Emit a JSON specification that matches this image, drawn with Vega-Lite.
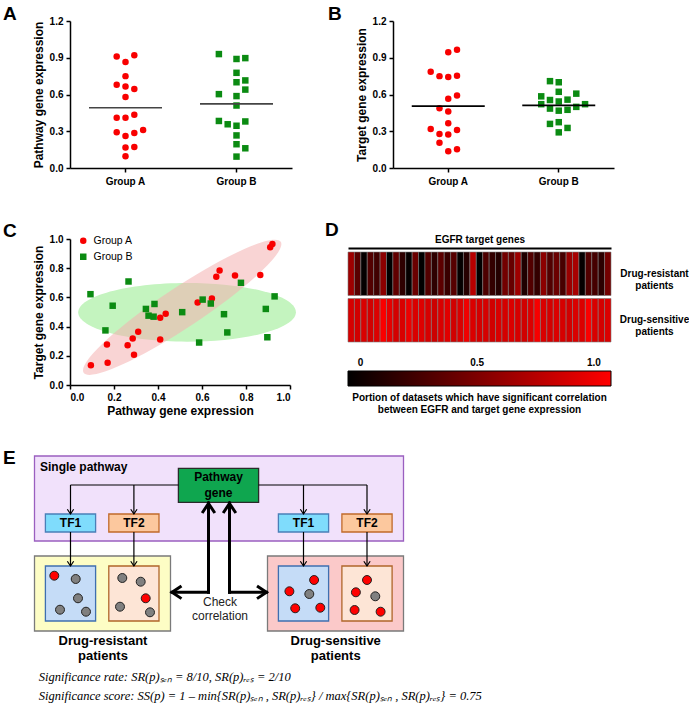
{
  "$schema": "https://vega.github.io/schema/vega-lite/v6.json",
  "padding": {"left": 3, "top": 5, "right": 0, "bottom": 0},
  "background": "white",
  "config": {
    "view": {"stroke": null},
    "font": "Liberation Sans",
    "axis": {"domainColor": "#000", "domainWidth": 1.5, "tickColor": "#000", "tickWidth": 1.5, "tickSize": 4, "labelColor": "#000", "labelFont": "Liberation Sans", "labelFontWeight": "bold", "labelFontSize": 10, "labelPadding": 3, "labelOverlap": false, "titleColor": "#000", "titleFont": "Liberation Sans", "titleFontWeight": "bold", "titleFontSize": 12, "titlePadding": 4, "grid": false},
    "title": {"font": "Liberation Sans", "color": "#000"}
  },
  "datasets": {
    "pts": [
      {"group": "Group A", "pathway": 0.095, "target": 0.136, "slotA": 0, "slotB": 0},
      {"group": "Group A", "pathway": 0.171, "target": 0.153, "slotA": 1, "slotB": 1},
      {"group": "Group A", "pathway": 0.168, "target": 0.278, "slotA": 0, "slotB": -1},
      {"group": "Group A", "pathway": 0.262, "target": 0.273, "slotA": 0, "slotB": 0},
      {"group": "Group A", "pathway": 0.285, "target": 0.319, "slotA": 1, "slotB": -2},
      {"group": "Group A", "pathway": 0.291, "target": 0.207, "slotA": -1, "slotB": -1},
      {"group": "Group A", "pathway": 0.31, "target": 0.365, "slotA": 2, "slotB": 0},
      {"group": "Group A", "pathway": 0.41, "target": 0.461, "slotA": -1, "slotB": 0},
      {"group": "Group A", "pathway": 0.435, "target": 0.488, "slotA": 1, "slotB": -1},
      {"group": "Group A", "pathway": 0.41, "target": 0.311, "slotA": 0, "slotB": 1},
      {"group": "Group A", "pathway": 0.58, "target": 0.565, "slotA": 0, "slotB": 0},
      {"group": "Group A", "pathway": 0.645, "target": 0.592, "slotA": 1, "slotB": 1},
      {"group": "Group A", "pathway": 0.665, "target": 0.742, "slotA": 0, "slotB": 0},
      {"group": "Group A", "pathway": 0.68, "target": 0.785, "slotA": -1, "slotB": -2},
      {"group": "Group A", "pathway": 0.75, "target": 0.75, "slotA": 0, "slotB": -1},
      {"group": "Group A", "pathway": 0.865, "target": 0.753, "slotA": 0, "slotB": 1},
      {"group": "Group A", "pathway": 0.91, "target": 0.944, "slotA": -1, "slotB": 0},
      {"group": "Group A", "pathway": 0.92, "target": 0.965, "slotA": 1, "slotB": 1},
      {"group": "Group B", "pathway": 0.093, "target": 0.622, "slotA": 0, "slotB": 0},
      {"group": "Group B", "pathway": 0.161, "target": 0.374, "slotA": 1, "slotB": 0},
      {"group": "Group B", "pathway": 0.194, "target": 0.543, "slotA": 0, "slotB": 0},
      {"group": "Group B", "pathway": 0.266, "target": 0.709, "slotA": 0, "slotB": -1},
      {"group": "Group B", "pathway": 0.345, "target": 0.521, "slotA": 0, "slotB": -2},
      {"group": "Group B", "pathway": 0.357, "target": 0.475, "slotA": -1, "slotB": 1},
      {"group": "Group B", "pathway": 0.38, "target": 0.468, "slotA": 1, "slotB": 0},
      {"group": "Group B", "pathway": 0.384, "target": 0.555, "slotA": -2, "slotB": -1},
      {"group": "Group B", "pathway": 0.51, "target": 0.499, "slotA": 0, "slotB": 2},
      {"group": "Group B", "pathway": 0.587, "target": 0.291, "slotA": 0, "slotB": 0},
      {"group": "Group B", "pathway": 0.603, "target": 0.585, "slotA": -2, "slotB": -2},
      {"group": "Group B", "pathway": 0.64, "target": 0.558, "slotA": 1, "slotB": 1},
      {"group": "Group B", "pathway": 0.7, "target": 0.485, "slotA": 0, "slotB": -1},
      {"group": "Group B", "pathway": 0.715, "target": 0.36, "slotA": 1, "slotB": -1},
      {"group": "Group B", "pathway": 0.777, "target": 0.7, "slotA": 0, "slotB": 0},
      {"group": "Group B", "pathway": 0.89, "target": 0.521, "slotA": 0, "slotB": 3},
      {"group": "Group B", "pathway": 0.897, "target": 0.327, "slotA": 1, "slotB": 1},
      {"group": "Group B", "pathway": 0.93, "target": 0.607, "slotA": -2, "slotB": 2}
    ],
    "ell": [
      {"group": "Group B", "pathway": 0.532, "target": 0.498},
      {"group": "Group A", "pathway": 0.51, "target": 0.532}
    ],
    "heat": [
      {"gene": 1, "grp": "Drug-resistant patients", "v": 0.62},
      {"gene": 2, "grp": "Drug-resistant patients", "v": 0.35},
      {"gene": 3, "grp": "Drug-resistant patients", "v": 0.02},
      {"gene": 4, "grp": "Drug-resistant patients", "v": 0.32},
      {"gene": 5, "grp": "Drug-resistant patients", "v": 0.25},
      {"gene": 6, "grp": "Drug-resistant patients", "v": 0.55},
      {"gene": 7, "grp": "Drug-resistant patients", "v": 0.0},
      {"gene": 8, "grp": "Drug-resistant patients", "v": 0.38},
      {"gene": 9, "grp": "Drug-resistant patients", "v": 0.18},
      {"gene": 10, "grp": "Drug-resistant patients", "v": 0.02},
      {"gene": 11, "grp": "Drug-resistant patients", "v": 0.42},
      {"gene": 12, "grp": "Drug-resistant patients", "v": 0.0},
      {"gene": 13, "grp": "Drug-resistant patients", "v": 0.32},
      {"gene": 14, "grp": "Drug-resistant patients", "v": 0.18},
      {"gene": 15, "grp": "Drug-resistant patients", "v": 0.36},
      {"gene": 16, "grp": "Drug-resistant patients", "v": 0.22},
      {"gene": 17, "grp": "Drug-resistant patients", "v": 0.34},
      {"gene": 18, "grp": "Drug-resistant patients", "v": 0.02},
      {"gene": 19, "grp": "Drug-resistant patients", "v": 0.15},
      {"gene": 20, "grp": "Drug-resistant patients", "v": 0.72},
      {"gene": 21, "grp": "Drug-resistant patients", "v": 0.0},
      {"gene": 22, "grp": "Drug-resistant patients", "v": 0.3},
      {"gene": 23, "grp": "Drug-resistant patients", "v": 0.2},
      {"gene": 24, "grp": "Drug-resistant patients", "v": 0.14},
      {"gene": 25, "grp": "Drug-resistant patients", "v": 0.45},
      {"gene": 26, "grp": "Drug-resistant patients", "v": 0.4},
      {"gene": 27, "grp": "Drug-resistant patients", "v": 0.62},
      {"gene": 28, "grp": "Drug-resistant patients", "v": 0.12},
      {"gene": 29, "grp": "Drug-resistant patients", "v": 0.32},
      {"gene": 30, "grp": "Drug-resistant patients", "v": 0.2},
      {"gene": 31, "grp": "Drug-resistant patients", "v": 0.55},
      {"gene": 32, "grp": "Drug-resistant patients", "v": 0.32},
      {"gene": 33, "grp": "Drug-resistant patients", "v": 0.42},
      {"gene": 34, "grp": "Drug-resistant patients", "v": 0.28},
      {"gene": 35, "grp": "Drug-resistant patients", "v": 0.6},
      {"gene": 36, "grp": "Drug-resistant patients", "v": 0.66},
      {"gene": 37, "grp": "Drug-resistant patients", "v": 0.02},
      {"gene": 38, "grp": "Drug-resistant patients", "v": 0.32},
      {"gene": 39, "grp": "Drug-resistant patients", "v": 0.27},
      {"gene": 40, "grp": "Drug-resistant patients", "v": 0.17},
      {"gene": 41, "grp": "Drug-resistant patients", "v": 0.45},
      {"gene": 1, "grp": "Drug-sensitive patients", "v": 0.84},
      {"gene": 2, "grp": "Drug-sensitive patients", "v": 0.82},
      {"gene": 3, "grp": "Drug-sensitive patients", "v": 0.85},
      {"gene": 4, "grp": "Drug-sensitive patients", "v": 0.82},
      {"gene": 5, "grp": "Drug-sensitive patients", "v": 0.86},
      {"gene": 6, "grp": "Drug-sensitive patients", "v": 0.98},
      {"gene": 7, "grp": "Drug-sensitive patients", "v": 0.9},
      {"gene": 8, "grp": "Drug-sensitive patients", "v": 0.83},
      {"gene": 9, "grp": "Drug-sensitive patients", "v": 0.85},
      {"gene": 10, "grp": "Drug-sensitive patients", "v": 0.93},
      {"gene": 11, "grp": "Drug-sensitive patients", "v": 0.85},
      {"gene": 12, "grp": "Drug-sensitive patients", "v": 0.87},
      {"gene": 13, "grp": "Drug-sensitive patients", "v": 0.84},
      {"gene": 14, "grp": "Drug-sensitive patients", "v": 0.8},
      {"gene": 15, "grp": "Drug-sensitive patients", "v": 0.85},
      {"gene": 16, "grp": "Drug-sensitive patients", "v": 0.88},
      {"gene": 17, "grp": "Drug-sensitive patients", "v": 0.82},
      {"gene": 18, "grp": "Drug-sensitive patients", "v": 0.85},
      {"gene": 19, "grp": "Drug-sensitive patients", "v": 0.94},
      {"gene": 20, "grp": "Drug-sensitive patients", "v": 0.86},
      {"gene": 21, "grp": "Drug-sensitive patients", "v": 0.83},
      {"gene": 22, "grp": "Drug-sensitive patients", "v": 0.84},
      {"gene": 23, "grp": "Drug-sensitive patients", "v": 0.82},
      {"gene": 24, "grp": "Drug-sensitive patients", "v": 0.85},
      {"gene": 25, "grp": "Drug-sensitive patients", "v": 0.83},
      {"gene": 26, "grp": "Drug-sensitive patients", "v": 0.86},
      {"gene": 27, "grp": "Drug-sensitive patients", "v": 0.84},
      {"gene": 28, "grp": "Drug-sensitive patients", "v": 0.82},
      {"gene": 29, "grp": "Drug-sensitive patients", "v": 0.86},
      {"gene": 30, "grp": "Drug-sensitive patients", "v": 0.97},
      {"gene": 31, "grp": "Drug-sensitive patients", "v": 0.85},
      {"gene": 32, "grp": "Drug-sensitive patients", "v": 0.83},
      {"gene": 33, "grp": "Drug-sensitive patients", "v": 0.86},
      {"gene": 34, "grp": "Drug-sensitive patients", "v": 0.84},
      {"gene": 35, "grp": "Drug-sensitive patients", "v": 0.82},
      {"gene": 36, "grp": "Drug-sensitive patients", "v": 0.85},
      {"gene": 37, "grp": "Drug-sensitive patients", "v": 0.86},
      {"gene": 38, "grp": "Drug-sensitive patients", "v": 0.98},
      {"gene": 39, "grp": "Drug-sensitive patients", "v": 0.85},
      {"gene": 40, "grp": "Drug-sensitive patients", "v": 0.83},
      {"gene": 41, "grp": "Drug-sensitive patients", "v": 0.86}
    ],
    "ebox": [
      {"kind": "pathway_bg", "x": 0.5, "x2": 369.5, "y": 0, "y2": 85},
      {"kind": "resistant", "x": 0.5, "x2": 136.5, "y": 100, "y2": 175},
      {"kind": "sensitive", "x": 233.5, "x2": 369.5, "y": 100, "y2": 175},
      {"kind": "gene", "x": 144.4, "x2": 224.6, "y": 12.3, "y2": 46.3},
      {"kind": "tf1", "x": 11.4, "x2": 61.6, "y": 58, "y2": 76},
      {"kind": "tf2", "x": 74.8, "x2": 125, "y": 58, "y2": 76},
      {"kind": "tf1", "x": 244.4, "x2": 294.6, "y": 58, "y2": 76},
      {"kind": "tf2", "x": 307.9, "x2": 358.1, "y": 58, "y2": 76},
      {"kind": "tf1set", "x": 11.4, "x2": 61.6, "y": 110, "y2": 165},
      {"kind": "tf2set", "x": 74.8, "x2": 125, "y": 110, "y2": 165},
      {"kind": "tf1set", "x": 244.4, "x2": 294.6, "y": 110, "y2": 165},
      {"kind": "tf2set", "x": 307.9, "x2": 358.1, "y": 110, "y2": 165}
    ],
    "eline": [
      {"w": "thin", "x": 36.5, "y": 29, "x2": 144.4, "y2": 29},
      {"w": "thin", "x": 224.6, "y": 29, "x2": 333, "y2": 29},
      {"w": "thin", "x": 36.5, "y": 29, "x2": 36.5, "y2": 58},
      {"w": "thin", "x": 99.9, "y": 29, "x2": 99.9, "y2": 58},
      {"w": "thin", "x": 269.5, "y": 29, "x2": 269.5, "y2": 58},
      {"w": "thin", "x": 333, "y": 29, "x2": 333, "y2": 58},
      {"w": "thin", "x": 36.5, "y": 76, "x2": 36.5, "y2": 110},
      {"w": "thin", "x": 99.9, "y": 76, "x2": 99.9, "y2": 110},
      {"w": "thin", "x": 269.5, "y": 76, "x2": 269.5, "y2": 110},
      {"w": "thin", "x": 333, "y": 76, "x2": 333, "y2": 110},
      {"w": "thick", "x": 174.5, "y": 47, "x2": 174.5, "y2": 136.3},
      {"w": "thick", "x": 174.5, "y": 136.3, "x2": 138, "y2": 136.3},
      {"w": "thick", "x": 195.5, "y": 47, "x2": 195.5, "y2": 136.3},
      {"w": "thick", "x": 195.5, "y": 136.3, "x2": 232.5, "y2": 136.3}
    ],
    "ehead": [
      {"w": "thin", "dir": "down", "x": 36.5, "y": 58},
      {"w": "thin", "dir": "down", "x": 99.9, "y": 58},
      {"w": "thin", "dir": "down", "x": 269.5, "y": 58},
      {"w": "thin", "dir": "down", "x": 333, "y": 58},
      {"w": "thin", "dir": "down", "x": 36.5, "y": 110},
      {"w": "thin", "dir": "down", "x": 99.9, "y": 110},
      {"w": "thin", "dir": "down", "x": 269.5, "y": 110},
      {"w": "thin", "dir": "down", "x": 333, "y": 110},
      {"w": "thick", "dir": "up", "x": 174.5, "y": 47.5},
      {"w": "thick", "dir": "up", "x": 195.5, "y": 47.5},
      {"w": "thick", "dir": "left", "x": 138, "y": 136.3},
      {"w": "thick", "dir": "right", "x": 232.5, "y": 136.3}
    ],
    "ecirc": [
      {"sig": "yes", "x": 20.3, "y": 119.7},
      {"sig": "no", "x": 41.7, "y": 123},
      {"sig": "no", "x": 44, "y": 142.3},
      {"sig": "no", "x": 26, "y": 153.7},
      {"sig": "no", "x": 52, "y": 155.7},
      {"sig": "no", "x": 88.3, "y": 122},
      {"sig": "no", "x": 106.7, "y": 125.7},
      {"sig": "yes", "x": 111.7, "y": 142.3},
      {"sig": "no", "x": 86, "y": 150.7},
      {"sig": "no", "x": 116, "y": 156.3},
      {"sig": "yes", "x": 280.1, "y": 124},
      {"sig": "yes", "x": 255.4, "y": 135.3},
      {"sig": "no", "x": 275.3, "y": 138},
      {"sig": "yes", "x": 261.2, "y": 152.3},
      {"sig": "yes", "x": 286.3, "y": 151.7},
      {"sig": "yes", "x": 333, "y": 124},
      {"sig": "yes", "x": 321.9, "y": 136.3},
      {"sig": "no", "x": 341.3, "y": 140.3},
      {"sig": "yes", "x": 320.6, "y": 154},
      {"sig": "yes", "x": 346.6, "y": 155.7}
    ],
    "etext": [
      {"kind": "boldl", "x": 6, "y": 11, "text": "Single pathway"},
      {"kind": "boldc", "x": 184.5, "y": 21.3, "text": "Pathway"},
      {"kind": "boldc", "x": 184.5, "y": 37.3, "text": "gene"},
      {"kind": "boldc", "x": 36.5, "y": 67, "text": "TF1"},
      {"kind": "boldc", "x": 99.9, "y": 67, "text": "TF2"},
      {"kind": "boldc", "x": 269.5, "y": 67, "text": "TF1"},
      {"kind": "boldc", "x": 333, "y": 67, "text": "TF2"},
      {"kind": "norm", "x": 186, "y": 146.3, "text": "Check"},
      {"kind": "norm", "x": 186, "y": 160.3, "text": "correlation"},
      {"kind": "big", "x": 69, "y": 185, "text": "Drug-resistant"},
      {"kind": "big", "x": 69, "y": 200, "text": "patients"},
      {"kind": "big", "x": 301.7, "y": 185, "text": "Drug-sensitive"},
      {"kind": "big", "x": 301.7, "y": 200, "text": "patients"},
      {"kind": "formula", "x": 4.8, "y": 221, "text": "Significance rate: SR(p)ₛₑₙ = 8/10, SR(p)ᵣₑₛ = 2/10"},
      {"kind": "formula", "x": 4.8, "y": 240, "text": "Significance score: SS(p) = 1 – min{SR(p)ₛₑₙ , SR(p)ᵣₑₛ} / max{SR(p)ₛₑₙ , SR(p)ᵣₑₛ} = 0.75"}
    ]
  },
  "spacing": 218,
  "bounds": "flush",
  "resolve": {"scale": {"color": "independent", "shape": "independent", "fill": "independent", "stroke": "independent", "xOffset": "independent"}, "legend": {"color": "independent", "shape": "independent", "fill": "independent", "stroke": "independent"}},
  "vconcat": [
    {
      "hconcat": [
        {
          "width": 222, "height": 147,
          "title": {"text": "A", "anchor": "start", "frame": "group", "dx": -67, "fontSize": 19, "fontWeight": "bold", "baseline": "bottom", "offset": -27},
          "data": {"name": "pts"},
          "layer": [
            {
              "mark": {"type": "point", "filled": true, "size": 42, "opacity": 1},
              "encoding": {
                "x": {"field": "group", "type": "nominal", "scale": {"paddingInner": 0, "paddingOuter": 0}, "axis": {"title": null, "labelAngle": 0, "labelPadding": 4}},
                "xOffset": {"field": "slotA", "type": "ordinal", "scale": {"type": "point", "domain": [-6, -5, -4, -3, -2, -1, 0, 1, 2, 3, 4, 5, 6], "padding": 0.3}},
                "y": {"field": "pathway", "type": "quantitative", "scale": {"domain": [0, 1.2], "nice": false}, "axis": {"values": [0, 0.3, 0.6, 0.9, 1.2], "format": ".1f", "labelOverlap": false, "title": "Pathway gene expression"}},
                "color": {"field": "group", "type": "nominal", "scale": {"domain": ["Group A", "Group B"], "range": ["#f80000", "#0b8b12"]}, "legend": null},
                "shape": {"field": "group", "type": "nominal", "scale": {"domain": ["Group A", "Group B"], "range": ["circle", "square"]}, "legend": null}
              }
            },
            {
              "mark": {"type": "tick", "orient": "horizontal", "size": 73, "thickness": 1.6, "color": "#444"},
              "encoding": {
                "x": {"field": "group", "type": "nominal"},
                "y": {"aggregate": "mean", "field": "pathway", "type": "quantitative", "axis": {"values": [0, 0.3, 0.6, 0.9, 1.2], "format": ".1f", "labelOverlap": false, "title": "Pathway gene expression"}}
              }
            }
          ]
        },
        {
          "width": 221, "height": 147,
          "title": {"text": "B", "anchor": "start", "frame": "group", "dx": -65, "fontSize": 19, "fontWeight": "bold", "baseline": "bottom", "offset": -27},
          "data": {"name": "pts"},
          "layer": [
            {
              "mark": {"type": "point", "filled": true, "size": 42, "opacity": 1},
              "encoding": {
                "x": {"field": "group", "type": "nominal", "scale": {"paddingInner": 0, "paddingOuter": 0}, "axis": {"title": null, "labelAngle": 0, "labelPadding": 4}},
                "xOffset": {"field": "slotB", "type": "ordinal", "scale": {"type": "point", "domain": [-6, -5, -4, -3, -2, -1, 0, 1, 2, 3, 4, 5, 6], "padding": 0.3}},
                "y": {"field": "target", "type": "quantitative", "scale": {"domain": [0, 1.2], "nice": false}, "axis": {"values": [0, 0.3, 0.6, 0.9, 1.2], "format": ".1f", "labelOverlap": false, "title": "Target gene expression"}},
                "color": {"field": "group", "type": "nominal", "scale": {"domain": ["Group A", "Group B"], "range": ["#f80000", "#0b8b12"]}, "legend": null},
                "shape": {"field": "group", "type": "nominal", "scale": {"domain": ["Group A", "Group B"], "range": ["circle", "square"]}, "legend": null}
              }
            },
            {
              "mark": {"type": "tick", "orient": "horizontal", "size": 73, "thickness": 1.6, "color": "#000"},
              "encoding": {
                "x": {"field": "group", "type": "nominal"},
                "y": {"aggregate": "mean", "field": "target", "type": "quantitative", "axis": {"values": [0, 0.3, 0.6, 0.9, 1.2], "format": ".1f", "labelOverlap": false, "title": "Target gene expression"}}
              }
            }
          ]
        }
      ],
      "spacing": 101,
      "bounds": "flush",
      "resolve": {"scale": {"color": "independent", "shape": "independent", "xOffset": "independent"}, "legend": {"color": "independent", "shape": "independent"}}
    },
    {
      "hconcat": [
        {
          "width": 220, "height": 146,
          "title": {"text": "C", "anchor": "start", "frame": "group", "dx": -67, "fontSize": 19, "fontWeight": "bold", "baseline": "bottom", "offset": -25.5},
          "encoding": {
            "x": {"field": "pathway", "type": "quantitative", "scale": {"domain": [0, 1], "nice": false}, "axis": {"values": [0, 0.2, 0.4, 0.6, 0.8, 1.0], "format": ".1f", "title": "Pathway gene expression", "titlePadding": 3}},
            "y": {"field": "target", "type": "quantitative", "scale": {"domain": [0, 1], "nice": false}, "axis": {"values": [0, 0.2, 0.4, 0.6, 0.8, 1.0], "format": ".1f", "title": "Target gene expression"}}
          },
          "layer": [
            {
              "data": {"name": "ell"},
              "transform": [{"filter": "datum.group == 'Group B'"}],
              "mark": {"type": "point", "filled": true, "shape": "M-1,0A1,0.27,0,1,1,1,0A1,0.27,0,1,1,-1,0Z", "size": 47400, "color": "#c4f4bf", "opacity": 1, "strokeWidth": 0}
            },
            {
              "data": {"name": "ell"},
              "transform": [{"filter": "datum.group == 'Group A'"}],
              "mark": {"type": "point", "filled": true, "shape": "M-1,0A1,0.17,0,1,1,1,0A1,0.17,0,1,1,-1,0Z", "size": 56000, "angle": -33.6, "color": "#f4b0b0", "opacity": 0.55, "strokeWidth": 0}
            },
            {
              "data": {"name": "pts"},
              "mark": {"type": "point", "filled": true, "size": 42, "opacity": 1},
              "encoding": {
                "color": {"field": "group", "type": "nominal", "scale": {"domain": ["Group A", "Group B"], "range": ["#f80000", "#0b8b12"]}, "legend": {"orient": "none", "legendX": 8, "legendY": -3.5, "title": null, "labelFontSize": 10.5, "labelFontWeight": "normal", "labelFont": "Liberation Sans", "labelColor": "#000", "symbolSize": 42, "rowPadding": 5, "labelOffset": 5, "padding": 0}},
                "shape": {"field": "group", "type": "nominal", "scale": {"domain": ["Group A", "Group B"], "range": ["circle", "square"]}}
              }
            }
          ]
        },
        {
          "vconcat": [
            {
              "width": 263, "height": 103,
              "title": {"text": "D", "anchor": "start", "frame": "group", "dx": -23, "fontSize": 19, "fontWeight": "bold", "baseline": "bottom", "offset": -25},
              "data": {"name": "heat"},
              "mark": {"type": "rect", "stroke": "#7a7a7a", "strokeWidth": 0.6},
              "encoding": {
                "x": {"field": "gene", "type": "ordinal", "scale": {"paddingInner": 0, "paddingOuter": 0}, "axis": {"orient": "top", "offset": -9, "domain": true, "domainWidth": 2, "ticks": false, "labels": false, "title": "EGFR target genes", "titleFontSize": 10, "titlePadding": 4}},
                "y": {"field": "grp", "type": "nominal", "scale": {"paddingInner": 0.0645, "paddingOuter": 0.14, "align": 1}, "axis": {"orient": "right", "title": null, "domain": false, "ticks": false, "labelExpr": "split(datum.label, ' ')", "labelAlign": "center", "labelBaseline": "middle", "labelPadding": 43, "labelFontSize": 10, "labelLineHeight": 12}},
                "color": {"field": "v", "type": "quantitative", "scale": {"domain": [0, 1], "range": ["#000000", "#ff0000"], "interpolate": "rgb"}, "legend": null}
              }
            },
            {
              "width": 263, "height": 15,
              "title": {"text": ["Portion of datasets which have significant correlation", "between EGFR and target gene expression"], "orient": "bottom", "anchor": "middle", "fontSize": 10, "fontWeight": "bold", "lineHeight": 12, "offset": 6},
              "data": {"values": [{"bar": "colorbar"}]},
              "mark": {"type": "rect", "stroke": "#000", "strokeWidth": 1, "color": {"gradient": "linear", "x1": 0, "y1": 0, "x2": 1, "y2": 0, "stops": [{"offset": 0, "color": "#000000"}, {"offset": 1, "color": "#ff0000"}]}},
              "encoding": {
                "x": {"datum": -0.0513, "type": "quantitative", "scale": {"domain": [-0.0513, 1.0756], "nice": false, "zero": false}, "axis": {"orient": "top", "values": [0, 0.5, 1], "labelExpr": "datum.value == 0 ? '0' : format(datum.value, '.1f')", "domain": false, "ticks": false, "labelPadding": 4, "title": null}},
                "x2": {"datum": 1.0756}
              }
            }
          ],
          "spacing": 29,
          "bounds": "flush"
        }
      ],
      "spacing": 58,
      "bounds": "flush",
      "resolve": {"scale": {"color": "independent", "shape": "independent"}, "legend": {"color": "independent", "shape": "independent"}}
    },
    {
      "width": 334, "height": 247,
      "title": {"text": "E", "anchor": "start", "frame": "group", "dx": -67, "fontSize": 19, "fontWeight": "bold", "baseline": "bottom", "offset": -32},
      "encoding": {
        "x": {"field": "x", "type": "quantitative", "scale": {"domain": [36, 370], "nice": false, "zero": false}, "axis": null},
        "y": {"field": "y", "type": "quantitative", "scale": {"domain": [1, 248], "nice": false, "zero": false, "reverse": true}, "axis": null}
      },
      "layer": [
        {
          "data": {"name": "ebox"},
          "mark": {"type": "rect", "strokeWidth": 1.3},
          "encoding": {
            "x2": {"field": "x2"},
            "y2": {"field": "y2"},
            "fill": {"field": "kind", "type": "nominal", "scale": {"domain": ["pathway_bg", "resistant", "sensitive", "gene", "tf1", "tf2", "tf1set", "tf2set"], "range": ["#f1e1fb", "#fdfdc5", "#fbc9c9", "#0fa64f", "#7fdcfc", "#fcc89e", "#c5dcf7", "#fde5d6"]}, "legend": null},
            "stroke": {"field": "kind", "type": "nominal", "scale": {"domain": ["pathway_bg", "resistant", "sensitive", "gene", "tf1", "tf2", "tf1set", "tf2set"], "range": ["#9a5fc0", "#7a7a7a", "#7a7a7a", "#2a2a2a", "#4a7fb8", "#c06a2a", "#3f6fb0", "#b0662a"]}, "legend": null}
          }
        },
        {
          "data": {"name": "eline"},
          "transform": [{"filter": "datum.w == 'thin'"}],
          "mark": {"type": "rule", "color": "#000", "strokeWidth": 1.2},
          "encoding": {"x2": {"field": "x2"}, "y2": {"field": "y2"}}
        },
        {
          "data": {"name": "eline"},
          "transform": [{"filter": "datum.w == 'thick'"}],
          "mark": {"type": "rule", "color": "#000", "strokeWidth": 3, "strokeCap": "square"},
          "encoding": {"x2": {"field": "x2"}, "y2": {"field": "y2"}}
        },
        {
          "data": {"name": "ehead"},
          "transform": [{"filter": "datum.w == 'thin'"}],
          "mark": {"type": "point", "filled": false, "color": "#000", "strokeWidth": 1.2, "size": 40, "opacity": 1},
          "encoding": {"shape": {"field": "dir", "type": "nominal", "scale": {"domain": ["down", "up", "left", "right"], "range": ["M-1,-1.5L0,0L1,-1.5", "M-1,1.5L0,0L1,1.5", "M1.5,-1L0,0L1.5,1", "M-1.5,-1L0,0L-1.5,1"]}, "legend": null}}
        },
        {
          "data": {"name": "ehead"},
          "transform": [{"filter": "datum.w == 'thick'"}],
          "mark": {"type": "point", "filled": false, "color": "#000", "strokeWidth": 3, "size": 160, "opacity": 1},
          "encoding": {"shape": {"field": "dir", "type": "nominal", "scale": {"domain": ["down", "up", "left", "right"], "range": ["M-1,-1.5L0,0L1,-1.5", "M-1,1.5L0,0L1,1.5", "M1.5,-1L0,0L1.5,1", "M-1.5,-1L0,0L-1.5,1"]}, "legend": null}}
        },
        {
          "data": {"name": "ecirc"},
          "mark": {"type": "point", "shape": "circle", "filled": true, "size": 80, "stroke": "#222", "strokeWidth": 1, "opacity": 1},
          "encoding": {"color": {"field": "sig", "type": "nominal", "scale": {"domain": ["yes", "no"], "range": ["#ff0000", "#808080"]}, "legend": null}}
        },
        {
          "data": {"name": "etext"},
          "transform": [{"filter": "datum.kind == 'boldl'"}],
          "mark": {"type": "text", "align": "left", "baseline": "middle", "font": "Liberation Sans", "fontWeight": "bold", "fontSize": 12, "color": "#000"},
          "encoding": {"text": {"field": "text"}}
        },
        {
          "data": {"name": "etext"},
          "transform": [{"filter": "datum.kind == 'boldc'"}],
          "mark": {"type": "text", "align": "center", "baseline": "middle", "font": "Liberation Sans", "fontWeight": "bold", "fontSize": 12, "color": "#000"},
          "encoding": {"text": {"field": "text"}}
        },
        {
          "data": {"name": "etext"},
          "transform": [{"filter": "datum.kind == 'big'"}],
          "mark": {"type": "text", "align": "center", "baseline": "middle", "font": "Liberation Sans", "fontWeight": "bold", "fontSize": 13, "color": "#000"},
          "encoding": {"text": {"field": "text"}}
        },
        {
          "data": {"name": "etext"},
          "transform": [{"filter": "datum.kind == 'norm'"}],
          "mark": {"type": "text", "align": "center", "baseline": "middle", "font": "Liberation Sans", "fontSize": 12, "color": "#222"},
          "encoding": {"text": {"field": "text"}}
        },
        {
          "data": {"name": "etext"},
          "transform": [{"filter": "datum.kind == 'formula'"}],
          "mark": {"type": "text", "align": "left", "baseline": "middle", "font": "Liberation Serif", "fontStyle": "italic", "fontSize": 12.5, "color": "#000"},
          "encoding": {"text": {"field": "text"}}
        }
      ]
    }
  ]
}
